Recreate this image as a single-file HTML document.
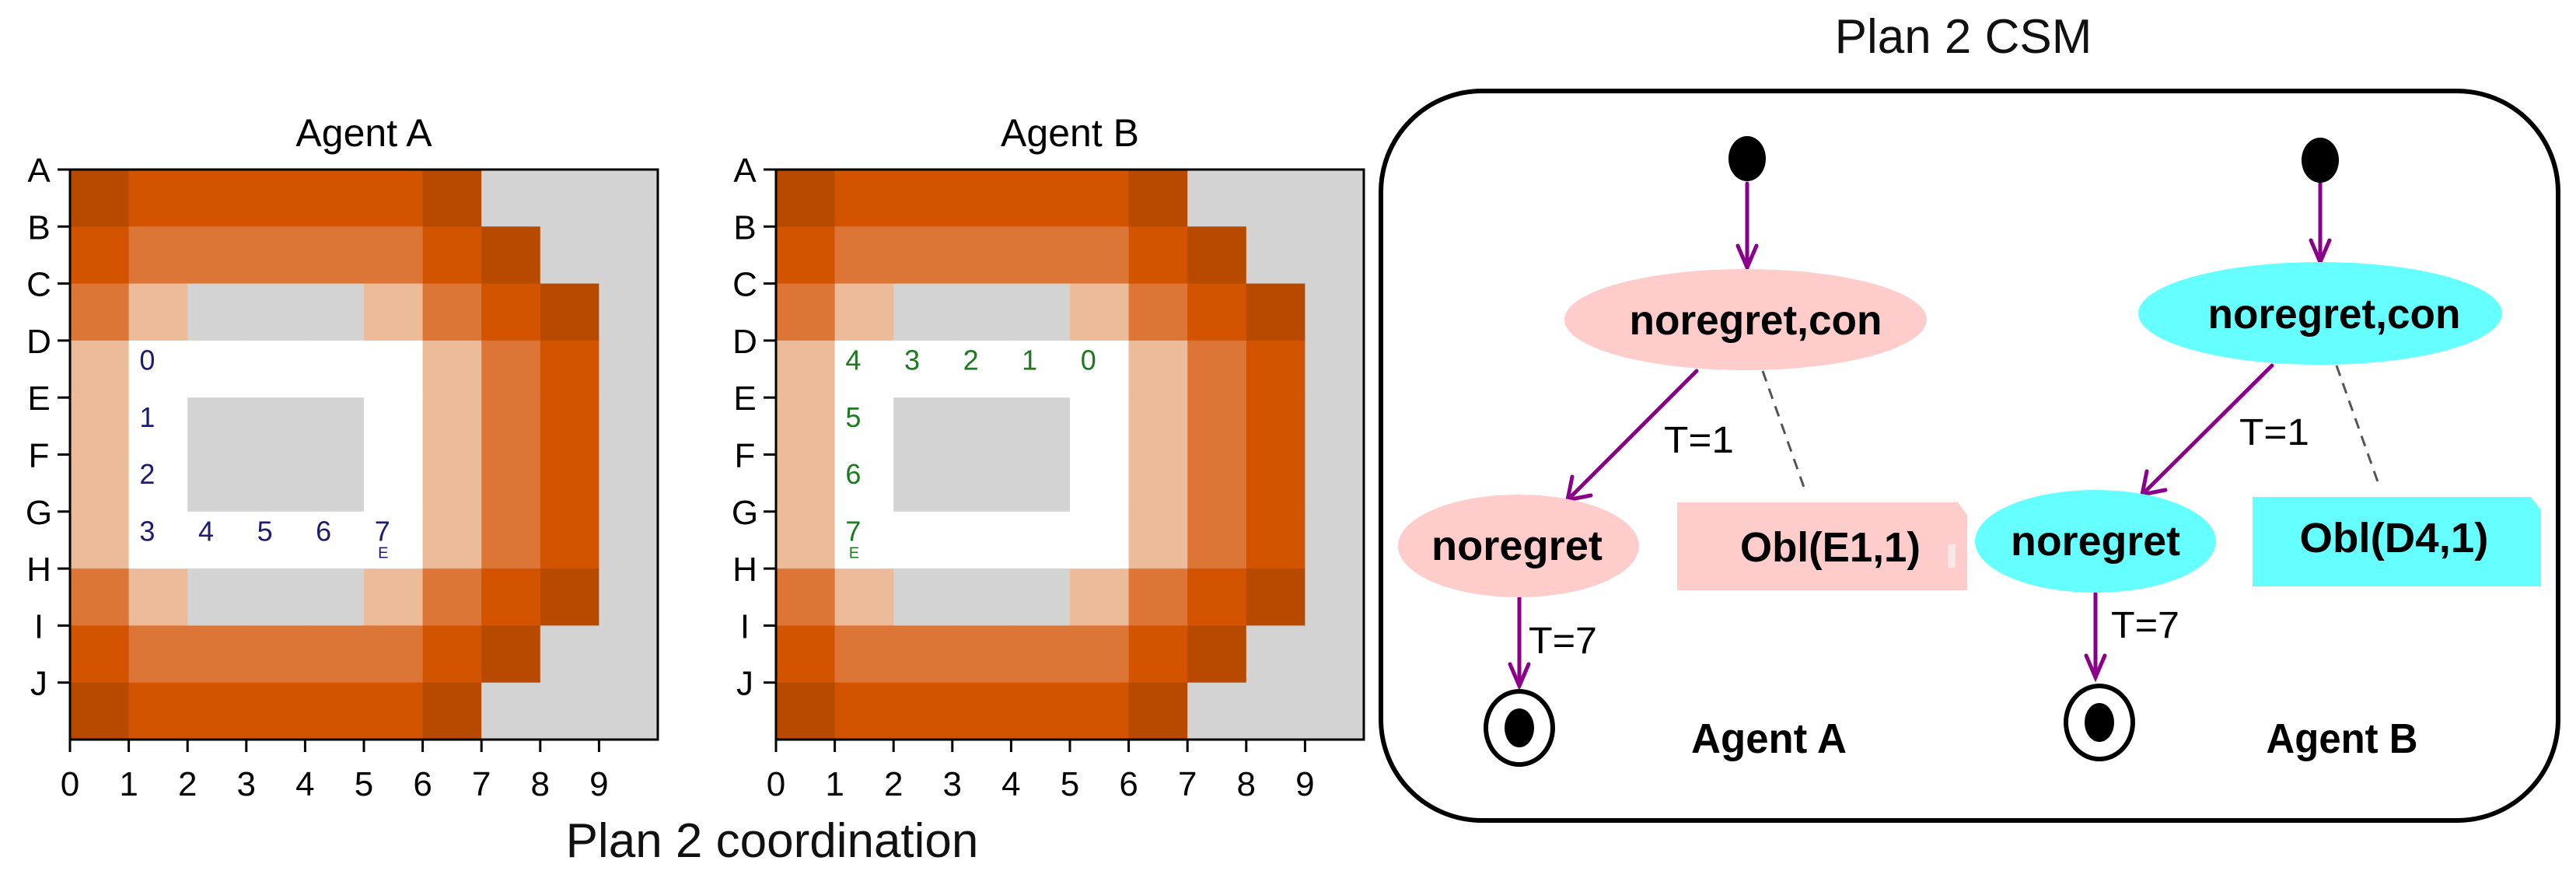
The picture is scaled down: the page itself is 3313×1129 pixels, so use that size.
<!DOCTYPE html>
<html><head><meta charset="utf-8"><style>
html,body{margin:0;padding:0;background:#fff;}
svg{display:block;}
</style></head><body>
<svg id="s" width="3313" height="1129" viewBox="0 0 3313 1129" xmlns="http://www.w3.org/2000/svg" font-family="'Liberation Sans', 'DejaVu Sans', sans-serif">
<g id="plots"></g>

<text x="993" y="1102" font-size="62" text-anchor="middle" fill="#111">Plan 2 coordination</text>

<!-- CSM -->
<text x="2525" y="68" font-size="62" text-anchor="middle" fill="#111">Plan 2 CSM</text>
<rect x="1776" y="117" width="1514" height="938" rx="130" ry="130" fill="none" stroke="#000" stroke-width="6"/>

<g stroke="#8b008b" stroke-width="5" fill="none" stroke-linecap="round">
  <line x1="2247" y1="236" x2="2247" y2="344"/>
  <polyline points="2235,316 2247,344 2259,316"/>
  <line x1="2182" y1="477" x2="2016" y2="643"/>
  <polyline points="2022,613 2016,643 2046,637"/>
  <line x1="1954" y1="768" x2="1954" y2="882"/>
  <polyline points="1942,854 1954,882 1966,854"/>

  <line x1="2984" y1="236" x2="2984" y2="337"/>
  <polyline points="2972,309 2984,337 2996,309"/>
  <line x1="2922" y1="470" x2="2755" y2="636"/>
  <polyline points="2761,606 2755,636 2785,630"/>
  <line x1="2695" y1="763" x2="2695" y2="871"/>
  <polyline points="2683,843 2695,871 2707,843"/>
</g>
<g stroke="#555" stroke-width="3" stroke-dasharray="14,10">
  <line x1="2267" y1="477" x2="2322" y2="632"/>
  <line x1="3005" y1="470" x2="3060" y2="625"/>
</g>

<ellipse cx="2247" cy="204" rx="24" ry="29" fill="#000"/>
<ellipse cx="2984" cy="206" rx="24" ry="29" fill="#000"/>

<ellipse cx="2245" cy="411" rx="233" ry="65" fill="#ffcccc"/>
<ellipse cx="1953" cy="702" rx="155" ry="66" fill="#ffcccc"/>
<path d="M2157,646 L2518,646 L2530,662 L2530,759 L2157,759 Z" fill="#ffcccc"/>
<rect x="2505" y="700" width="10" height="30" fill="#fff" opacity="0.5"/>

<ellipse cx="2984" cy="403" rx="234" ry="66" fill="#66ffff"/>
<ellipse cx="2695" cy="696" rx="155" ry="66" fill="#66ffff"/>
<path d="M2897,639 L3255,639 L3268,656 L3268,754 L2897,754 Z" fill="#66ffff"/>

<g font-weight="bold" font-size="54" fill="#000" text-anchor="middle">
  <text x="2258" y="430" textLength="325" lengthAdjust="spacingAndGlyphs">noregret,con</text>
  <text x="1951" y="720" textLength="220" lengthAdjust="spacingAndGlyphs">noregret</text>
  <text x="2354" y="722" textLength="232" lengthAdjust="spacingAndGlyphs">Obl(E1,1)</text>
  <text x="3002" y="422" textLength="325" lengthAdjust="spacingAndGlyphs">noregret,con</text>
  <text x="2695" y="714" textLength="218" lengthAdjust="spacingAndGlyphs">noregret</text>
  <text x="3079" y="710" textLength="243" lengthAdjust="spacingAndGlyphs">Obl(D4,1)</text>
  <text x="2275" y="968" textLength="200" lengthAdjust="spacingAndGlyphs">Agent A</text>
  <text x="3012" y="968" textLength="195" lengthAdjust="spacingAndGlyphs">Agent B</text>
</g>
<g font-size="48" fill="#000">
  <text x="2140" y="582" textLength="90" lengthAdjust="spacingAndGlyphs">T=1</text>
  <text x="2880" y="572" textLength="90" lengthAdjust="spacingAndGlyphs">T=1</text>
  <text x="1966" y="840" textLength="88" lengthAdjust="spacingAndGlyphs">T=7</text>
  <text x="2715" y="820" textLength="88" lengthAdjust="spacingAndGlyphs">T=7</text>
</g>

<g fill="none" stroke="#000" stroke-width="6">
  <ellipse cx="1954" cy="936" rx="43" ry="47"/>
  <ellipse cx="2700" cy="929" rx="43" ry="47"/>
</g>
<ellipse cx="1954" cy="936" rx="19" ry="25" fill="#000"/>
<ellipse cx="2700" cy="929" rx="19" ry="25" fill="#000"/>
</svg>
<script>
(function(){
var NS="http://www.w3.org/2000/svg";
var g=document.getElementById("plots");
var C={d:"#b84a00",o:"#d25400",m:"#dc7535",l:"#ecbb9a",g:"#d3d3d3",w:"#ffffff"};
var rows=["dooooodggg","ommmmmodgg","mlggglmodg","lwwwwwlmog","lwgggwlmog","lwgggwlmog","lwwwwwlmog","mlggglmodg","ommmmmodgg","dooooodggg"];
function el(n,a,t){var e=document.createElementNS(NS,n);for(var k in a)e.setAttribute(k,a[k]);if(t!==undefined)e.textContent=t;g.appendChild(e);return e;}
function plot(L,T,title,nums,col){
  var W=75.6,H=73.3;
  for(var r=0;r<10;r++)for(var c=0;c<10;c++){
    el("rect",{x:L+c*W,y:T+r*H,width:W+0.6,height:H+0.6,fill:C[rows[r][c]]});
  }
  el("rect",{x:L,y:T,width:10*W,height:10*H,fill:"none",stroke:"#000","stroke-width":3});
  var letters="ABCDEFGHIJ";
  for(var r=0;r<10;r++){
    el("line",{x1:L-16,y1:T+r*H,x2:L,y2:T+r*H,stroke:"#000","stroke-width":3});
    el("text",{x:L-40,y:T+r*H+16,"font-size":44,"text-anchor":"middle",fill:"#000"},letters[r]);
  }
  for(var c=0;c<10;c++){
    el("line",{x1:L+c*W,y1:T+10*H,x2:L+c*W,y2:T+10*H+16,stroke:"#000","stroke-width":3});
    el("text",{x:L+c*W,y:T+10*H+72,"font-size":44,"text-anchor":"middle",fill:"#000"},String(c));
  }
  el("text",{x:L+5*W,y:T-30,"font-size":50,"text-anchor":"middle",fill:"#000"},title);
  nums.forEach(function(n){
    var x=L+n[1]*W+W/2-14,y=T+n[2]*H+H/2+1;
    el("text",{x:x,y:y,"font-size":36,"text-anchor":"middle",fill:col},n[0]);
    if(n[0]==="7")el("text",{x:x+1,y:y+22,"font-size":20,"text-anchor":"middle",fill:col},"E");
  });
}
plot(90,218,"Agent A",[["0",1,3],["1",1,4],["2",1,5],["3",1,6],["4",2,6],["5",3,6],["6",4,6],["7",5,6]],"#1c1c72");
plot(998,218,"Agent B",[["4",1,3],["3",2,3],["2",3,3],["1",4,3],["0",5,3],["5",1,4],["6",1,5],["7",1,6]],"#1e7a1e");
})();
</script>
</body></html>
